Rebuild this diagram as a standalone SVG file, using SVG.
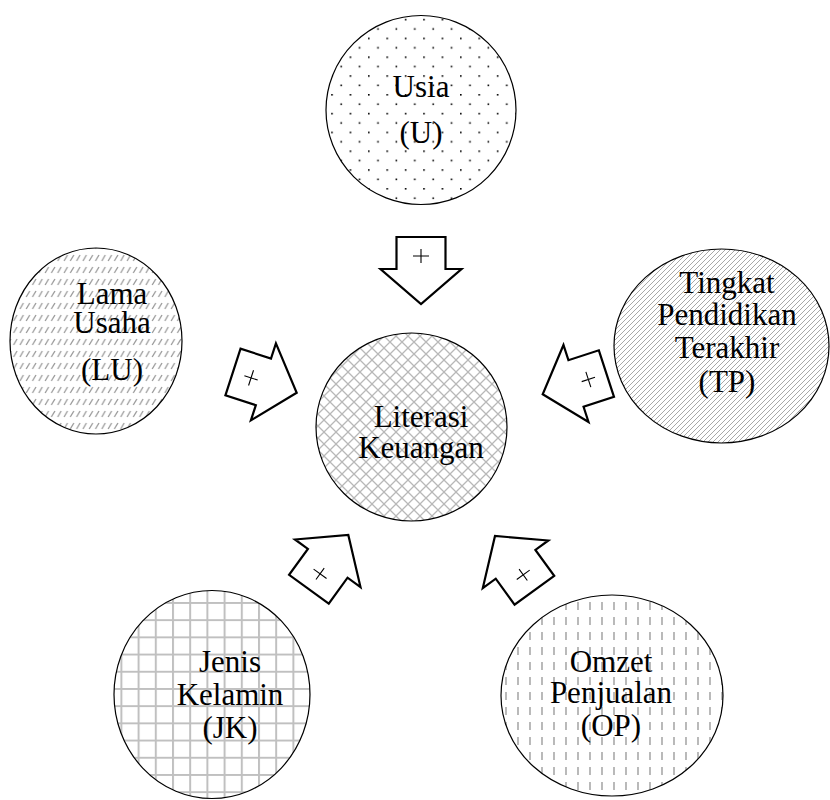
<svg xmlns="http://www.w3.org/2000/svg" width="830" height="800" viewBox="0 0 830 800">
<style>
.node ellipse{stroke:#000;stroke-width:1.2}
.lbl{font-family:"Liberation Serif","Times New Roman",serif;font-size:31px;fill:#000;text-anchor:middle}
.arr{fill:#fff;stroke:#000;stroke-width:2.2;stroke-linejoin:miter}
.plus{stroke:#000;stroke-width:1.1}
</style>
<defs>
<pattern id="pDots" patternUnits="userSpaceOnUse" width="18.4" height="18.8">
<rect x="0" y="0" width="1.6" height="1.6" fill="#000"/>
<rect x="9.2" y="9.4" width="1.6" height="1.6" fill="#000"/>
</pattern>
<pattern id="pDash" patternUnits="userSpaceOnUse" width="6.3" height="12">
<line x1="1" y1="9" x2="4.5" y2="3" stroke="#999" stroke-width="1.3"/>
</pattern>
<pattern id="pDiamond" patternUnits="userSpaceOnUse" width="12" height="12">
<path d="M0,0L12,12M12,0L0,12" stroke="#b8b8b8" stroke-width="1.3" fill="none"/>
</pattern>
<pattern id="pDiag" patternUnits="userSpaceOnUse" width="5" height="5">
<path d="M-1,6L6,-1M-1,1L1,-1M4,6L6,4" stroke="#a8a8a8" stroke-width="1" fill="none"/>
</pattern>
<pattern id="pGrid" patternUnits="userSpaceOnUse" width="17.2" height="17.2">
<path d="M1,0V17.2M0,1H17.2" stroke="#c0c0c0" stroke-width="2" fill="none"/>
</pattern>
<pattern id="pVDash" patternUnits="userSpaceOnUse" width="12" height="15">
<line x1="2" y1="2" x2="2" y2="10" stroke="#a8a8a8" stroke-width="1.6"/>
</pattern>
<g id="arrow">
<polygon class="arr" points="-24.5,-67 24.5,-67 24.5,-35 40.5,-35 0,0 -40.5,-35 -24.5,-35"/>
<path class="plus" d="M-8,-48H8M0,-55V-41"/>
</g>
</defs>

<g id="connectors">
<use href="#arrow" transform="translate(421,304)"/>
<use href="#arrow" transform="translate(296.7,392.7) rotate(-72)"/>
<use href="#arrow" transform="translate(542.7,394.3) rotate(72)"/>
<use href="#arrow" transform="translate(348.3,535) rotate(-144)"/>
<use href="#arrow" transform="translate(495,536) rotate(144)"/>
</g>

<g id="node-U" class="node">
<ellipse cx="421" cy="110" rx="95" ry="94.5" fill="url(#pDots)"/>
<text class="lbl" x="421" y="97">Usia</text>
<text class="lbl" x="421" y="143">(U)</text>
</g>

<g id="node-LU" class="node">
<ellipse cx="96" cy="341" rx="86" ry="93" fill="url(#pDash)"/>
<text class="lbl" x="112" y="304">Lama</text>
<text class="lbl" x="112" y="333">Usaha</text>
<text class="lbl" x="112" y="380">(LU)</text>
</g>

<g id="node-LK" class="node">
<ellipse cx="411.5" cy="427" rx="95.5" ry="94" fill="url(#pDiamond)"/>
<text class="lbl" x="421" y="427">Literasi</text>
<text class="lbl" x="421" y="458">Keuangan</text>
</g>

<g id="node-TP" class="node">
<ellipse cx="721.5" cy="346" rx="107.5" ry="97" fill="url(#pDiag)"/>
<text class="lbl" x="727" y="293">Tingkat</text>
<text class="lbl" x="727" y="325">Pendidikan</text>
<text class="lbl" x="727" y="358">Terakhir</text>
<text class="lbl" x="727" y="392">(TP)</text>
</g>

<g id="node-JK" class="node">
<ellipse cx="212" cy="694.5" rx="98" ry="104" fill="url(#pGrid)"/>
<text class="lbl" x="230" y="672">Jenis</text>
<text class="lbl" x="230" y="705">Kelamin</text>
<text class="lbl" x="230" y="738">(JK)</text>
</g>

<g id="node-OP" class="node">
<ellipse cx="612" cy="695.5" rx="111" ry="100.5" fill="url(#pVDash)"/>
<text class="lbl" x="611" y="672">Omzet</text>
<text class="lbl" x="611" y="703">Penjualan</text>
<text class="lbl" x="611" y="736">(OP)</text>
</g>
</svg>
